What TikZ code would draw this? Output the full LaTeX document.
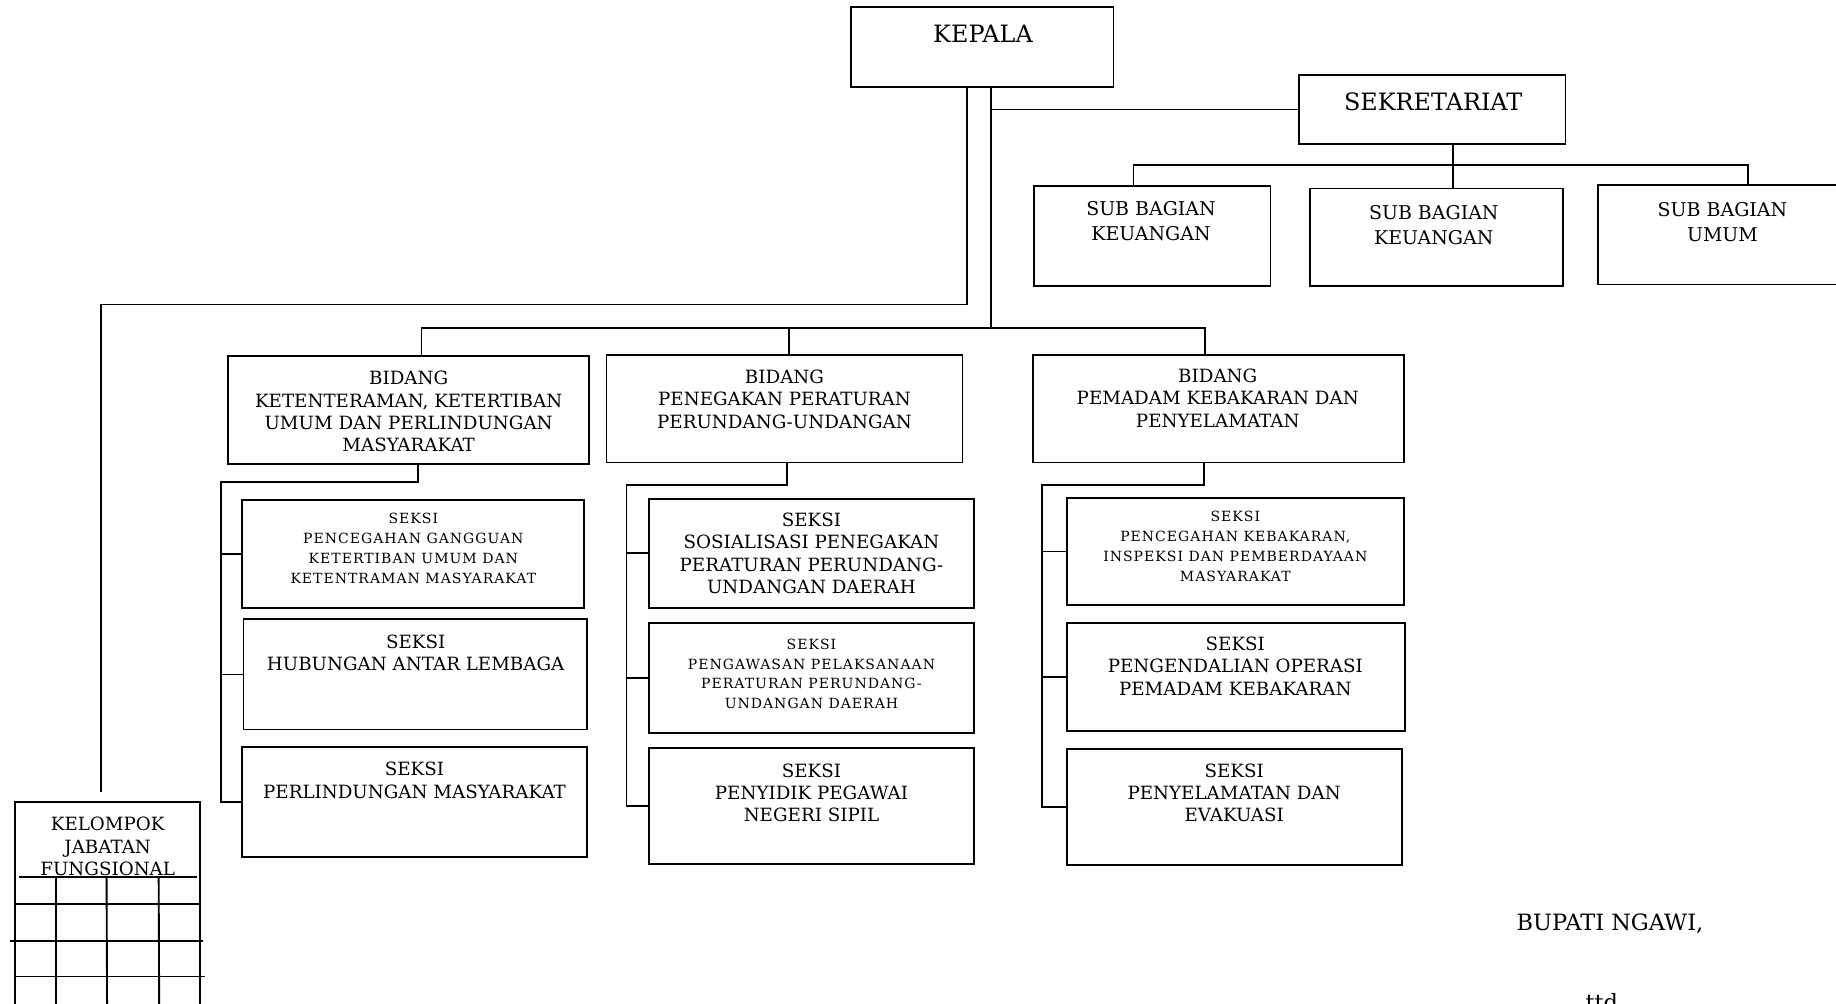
\documentclass[tikz,border=0pt]{standalone}
\usepackage{fontspec}
\setmainfont{DejaVu Serif}
\newfontfamily\smallfnt[LetterSpace=7]{DejaVu Serif}
\usetikzlibrary{calc}
\newcommand\obox[5]{\node[bx, minimum width={(#4-#2)*0.5pt}, minimum height={(#5-#3)*0.5pt}] (#1) at (#2,#3) {};}
\begin{document}
\begin{tikzpicture}[x=0.5pt,y=-0.5pt, line width=0.8pt,
  bx/.style={draw, inner sep=0pt, outer sep=0pt, anchor=north west},
  tL/.style={inner sep=0pt, anchor=north, align=center, font=\fontsize{9.6}{12}\selectfont},
  tM/.style={inner sep=0pt, anchor=north, align=center, font=\fontsize{7.8}{9.5}\selectfont},
  tSB/.style={inner sep=0pt, anchor=north, align=center, font=\fontsize{8.1}{10.7}\selectfont},
  tS/.style={inner sep=0pt, anchor=north, align=center, font=\smallfnt\fontsize{6}{8.5}\selectfont},
]
\useasboundingbox (0,0) rectangle (1568,856.6);

% boxes
\obox{kepala}{727}{6}{951}{74}
\obox{sek}{1109}{64}{1337}{123}
\obox{sb1}{883}{159}{1085}{244}
\obox{sb2}{1119}{161}{1335}{244}
\obox{sb3}{1365}{158}{1580}{243}
\obox{b1}{195}{304}{503}{396}
\obox{b2}{518}{303}{822}{395}
\obox{b3}{882}{303}{1199}{395}
\obox{s11}{207}{427}{499}{519}
\obox{s12}{208}{529}{501}{623}
\obox{s13}{206.5}{638}{501}{732}
\obox{s21}{554}{426}{832}{519}
\obox{s22}{554}{532}{832}{626}
\obox{s23}{554}{639}{832}{738}
\obox{s31}{911}{425}{1199}{517}
\obox{s32}{911}{532}{1200}{624}
\obox{s33}{911}{640}{1197}{739}
\obox{kel}{13}{685}{171}{880}

% texts
\node[tL, font=\fontsize{10.2}{12}\selectfont] (tkepala) at (839.5,20.5) {KEPALA};
\node[tL, font=\fontsize{10.2}{12}\selectfont] (tsek) at (1224,78.5) {SEKRETARIAT};
\node[tSB] (tsb1) at (983,171.3) {SUB BAGIAN\\KEUANGAN};
\node[tSB] (tsb2) at (1224.5,174.3) {SUB BAGIAN\\KEUANGAN};
\node[tSB] (tsb3) at (1471,172.3) {SUB BAGIAN\\UMUM};
\node[tM] (tb1) at (349,316.3) {BIDANG\\KETENTERAMAN, KETERTIBAN\\UMUM DAN PERLINDUNGAN\\MASYARAKAT};
\node[tM] (tb2) at (670,315.3) {BIDANG\\PENEGAKAN PERATURAN\\PERUNDANG-UNDANGAN};
\node[tM] (tb3) at (1040,314.3) {BIDANG\\PEMADAM KEBAKARAN DAN\\PENYELAMATAN};
\node[tS] (ts11) at (353,437.7) {SEKSI\\PENCEGAHAN GANGGUAN\\KETERTIBAN UMUM DAN\\KETENTRAMAN MASYARAKAT};
\node[tM] (ts12) at (355,541.3) {SEKSI\\HUBUNGAN ANTAR LEMBAGA};
\node[tM] (ts13) at (354,650.3) {SEKSI\\PERLINDUNGAN MASYARAKAT};
\node[tM] (ts21) at (693,437.3) {SEKSI\\SOSIALISASI PENEGAKAN\\PERATURAN PERUNDANG-\\UNDANGAN DAERAH};
\node[tS] (ts22) at (693,544.7) {SEKSI\\PENGAWASAN PELAKSANAAN\\PERATURAN PERUNDANG-\\UNDANGAN DAERAH};
\node[tM] (ts23) at (693,651.3) {SEKSI\\PENYIDIK PEGAWAI\\NEGERI SIPIL};
\node[tS] (ts31) at (1055,435.7) {SEKSI\\PENCEGAHAN KEBAKARAN,\\INSPEKSI DAN PEMBERDAYAAN\\MASYARAKAT};
\node[tM] (ts32) at (1055,543.3) {SEKSI\\PENGENDALIAN OPERASI\\PEMADAM KEBAKARAN};
\node[tM] (ts33) at (1054,651.3) {SEKSI\\PENYELAMATAN DAN\\EVAKUASI};
\node[tM] (tkel) at (92,697.3) {KELOMPOK\\JABATAN\\FUNGSIONAL};
\node[tL] (tbup) at (1375,780) {BUPATI NGAWI,};
\node[tL] (tttd) at (1368,848) {ttd};

% connectors from KEPALA
\coordinate (xa) at (826,0);
\coordinate (xb) at (846,0);
\coordinate (kj1) at (86,260);
\coordinate (kj2) at (86,676);
\draw (kepala.south -| xa) |- (kj1) -- (kj2);
\coordinate (bar) at (846,280);
\coordinate (barL) at (360,280);
\coordinate (barR) at (1029,280);
\coordinate (d2) at (674,280);
\draw (kepala.south -| xb) -- (bar);
\draw (sek.west) -- (sek.west -| xb);
\draw (barL |- b1.north) -- (barL) -- (barR) -- (barR |- b3.north);
\draw (d2) -- (d2 |- b2.north);

% sekretariat
\coordinate (sv) at (1241,141);
\coordinate (sL) at (968,141);
\coordinate (sR) at (1493,141);
\draw (sek.south -| sv) -- (sv);
\draw (sL |- sb1.north) -- (sL) -- (sR) -- (sR |- sb3.north);
\draw (sv) -- (sv |- sb2.north);

% column 1
\coordinate (c1a) at (357,412);
\coordinate (c1v) at (189,412);
\draw (b1.south -| c1a) -- (c1a) -- (c1v) -- (c1v |- s13.west) -- (s13.west);
\draw (s11.west) -- (s11.west -| c1v);
\draw (s12.west) -- (s12.west -| c1v);
% column 2
\coordinate (c2a) at (672,414);
\coordinate (c2v) at (535,414);
\draw (b2.south -| c2a) -- (c2a) -- (c2v) -- (c2v |- s23.west) -- (s23.west);
\draw (s21.west) -- (s21.west -| c2v);
\draw (s22.west) -- (s22.west -| c2v);
% column 3
\coordinate (c3a) at (1028,414);
\coordinate (c3v) at (890,414);
\draw (b3.south -| c3a) -- (c3a) -- (c3v) -- (c3v |- s33.west) -- (s33.west);
\draw (s31.west) -- (s31.west -| c3v);
\draw (s32.west) -- (s32.west -| c3v);

% grid in kelompok box
\draw (16,749) -- (168,749);
\draw (13,772) -- (171,772);
\draw (8.5,804) -- (173,804);
\draw (13,834) -- (175,834);
\draw (47.6,749) -- (47.6,870);
\draw (91,749) -- (91.5,870);
\draw (135.5,749) -- (136,870);
\end{tikzpicture}
\end{document}
